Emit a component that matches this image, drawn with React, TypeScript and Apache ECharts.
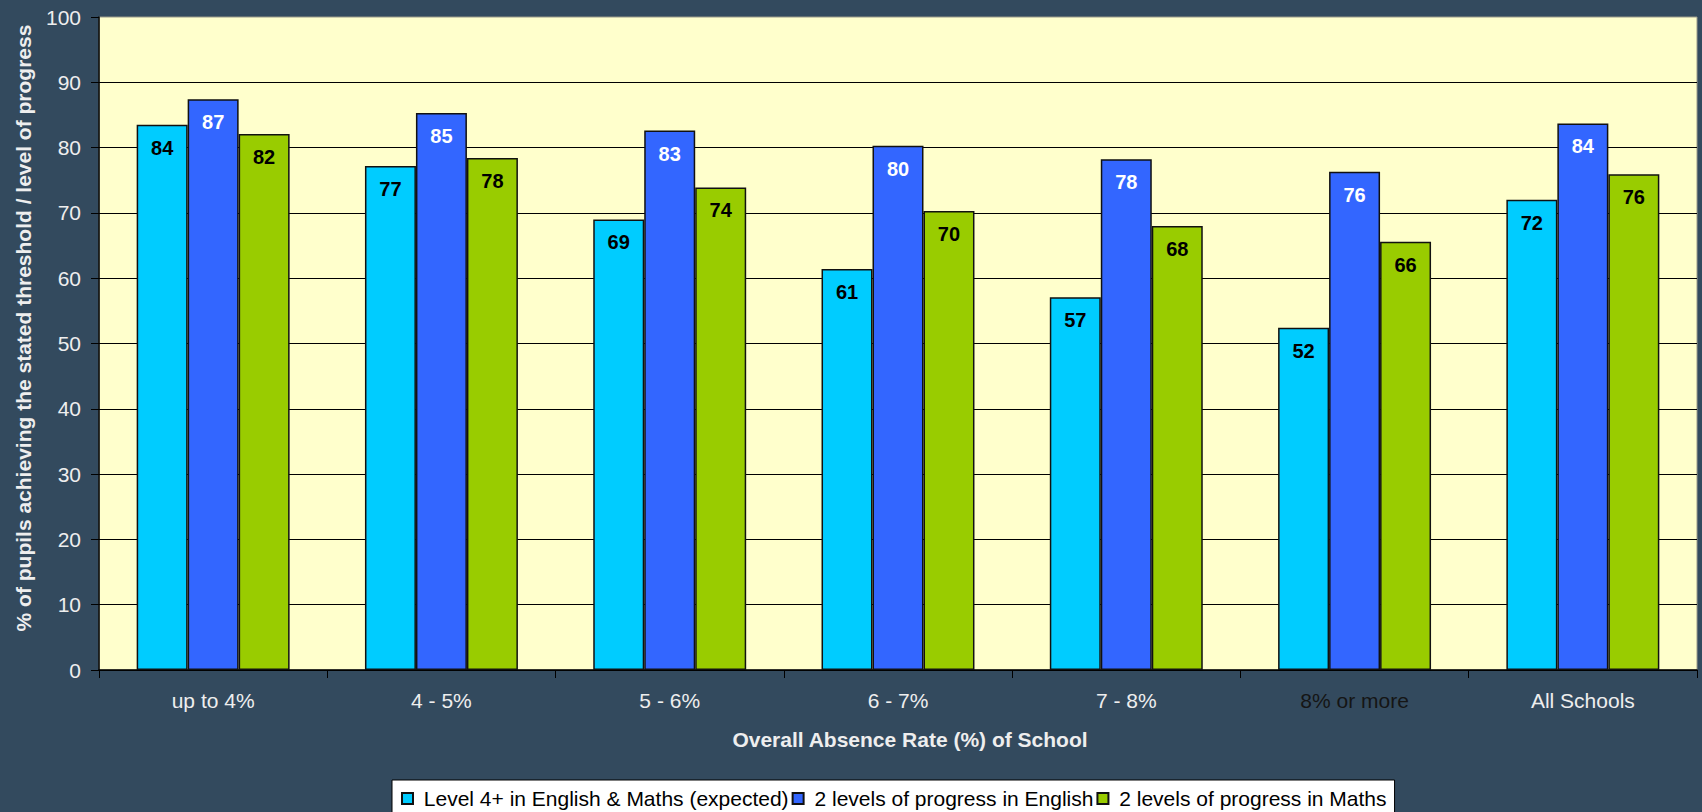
import React, { useEffect, useRef } from "react";
import * as echarts from "echarts";

const categories = ["up to 4%", "4 - 5%", "5 - 6%", "6 - 7%", "7 - 8%", "8% or more", "All Schools"];
const seriesNames = [
  "Level 4+ in English & Maths (expected)",
  "2 levels of progress in English",
  "2 levels of progress in Maths",
];
const level4Values = [83.5, 77.2, 69.0, 61.4, 57.1, 52.4, 72.0];
const englishValues = [87.4, 85.3, 82.6, 80.3, 78.2, 76.3, 83.7];
const mathsValues = [82.1, 78.4, 73.9, 70.3, 68.0, 65.6, 75.9];
const yTicks = { min: 0, max: 100, interval: 10 };

const colors = ["#00CCFF", "#3366FF", "#99CC00"];
const labelColors = ["#000000", "#FFFFFF", "#000000"];
const FONT = "Arial, 'Liberation Sans', sans-serif";

export default function App() {
  const ref = useRef<HTMLDivElement>(null);
  useEffect(() => {
    if (!ref.current) return;
    const chart = echarts.init(ref.current, undefined, { renderer: "svg" });
    const values = [level4Values, englishValues, mathsValues];
    chart.setOption({
      animation: false,
      backgroundColor: "#334A5E",
      textStyle: { fontFamily: FONT },
      grid: {
        left: 99,
        right: 5,
        top: 17,
        bottom: 142,
        show: true,
        backgroundColor: "#FFFFCC",
        borderColor: "#9A9A8A",
        borderWidth: 1,
      },
      legend: {
        data: seriesNames,
        top: 780,
        left: 392,
        icon: "rect",
        itemWidth: 11,
        itemHeight: 11,
        itemGap: 3,
        padding: [8, 8, 20, 9],
        backgroundColor: "#FFFFFF",
        borderColor: "#000000",
        borderWidth: 1,
        borderRadius: 0,
        formatter: (n: string) => " " + n,
        textStyle: { fontSize: 21, color: "#000000", fontFamily: FONT },
      },
      xAxis: {
        type: "category",
        data: categories.map((c) =>
          c === "8% or more" ? { value: c, textStyle: { color: "#151515" } } : c
        ),
        axisLine: { lineStyle: { color: "#000000", width: 1.5 } },
        axisTick: { show: true, length: 8, lineStyle: { color: "#000000" } },
        axisLabel: { color: "#EEEEEE", fontSize: 21, margin: 20, fontFamily: FONT },
        splitLine: { show: false },
      },
      yAxis: {
        type: "value",
        min: yTicks.min,
        max: yTicks.max,
        interval: yTicks.interval,
        axisLine: { show: true, lineStyle: { color: "#000000", width: 1.5 } },
        axisTick: { show: true, length: 8, lineStyle: { color: "#000000" } },
        axisLabel: { color: "#EEEEEE", fontSize: 21, margin: 18, fontFamily: FONT },
        splitLine: { show: true, showMaxLine: false, lineStyle: { color: "#000000", width: 1 } },
      },
      graphic: [
        {
          type: "text",
          x: 23,
          y: 328,
          rotation: Math.PI / 2,
          style: {
            text: "% of pupils achieving the stated threshold / level of progress",
            fill: "#EEEEEE",
            font: `bold 21px ${FONT}`,
            textAlign: "center",
            textVerticalAlign: "middle",
          },
        },
        {
          type: "text",
          x: 910,
          y: 739,
          style: {
            text: "Overall Absence Rate (%) of School",
            fill: "#EEEEEE",
            font: `bold 21px ${FONT}`,
            textAlign: "center",
            textVerticalAlign: "middle",
          },
        },
      ],
      series: seriesNames.map((name, i) => ({
        name,
        type: "bar",
        data: values[i],
        barGap: "0%",
        barCategoryGap: "33%",
        itemStyle: { color: colors[i], borderColor: "#111111", borderWidth: 1.5 },
        label: {
          show: true,
          position: "insideTop",
          distance: 13,
          color: labelColors[i],
          fontSize: 20,
          fontWeight: "bold",
          fontFamily: FONT,
          formatter: (p: any) => String(Math.round(p.value)),
        },
      })),
    });
    return () => chart.dispose();
  }, []);
  return (
    <div
      ref={ref}
      style={{ position: "fixed", left: 0, top: 0, width: 1702, height: 812 }}
    />
  );
}
